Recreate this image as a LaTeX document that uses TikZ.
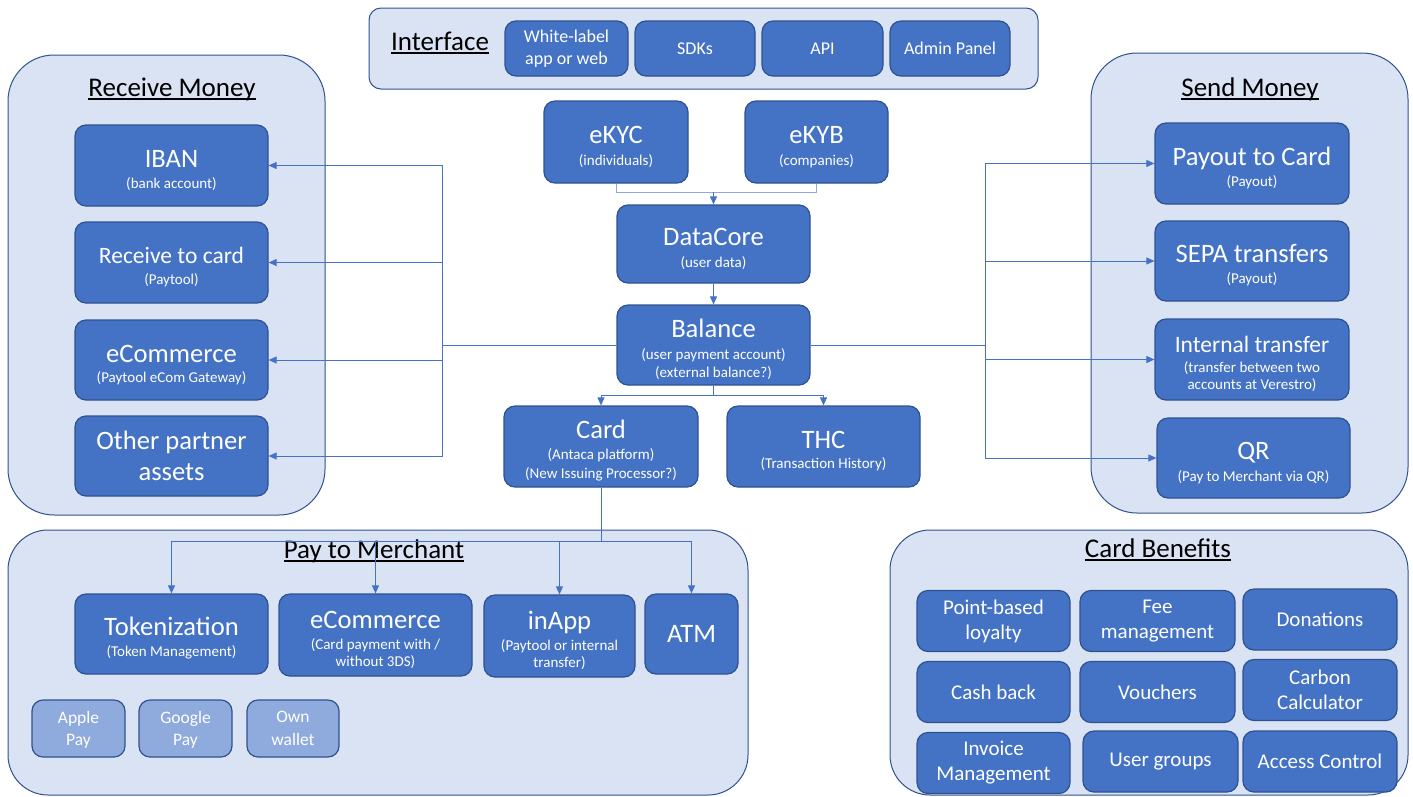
\documentclass[tikz,border=0pt]{standalone}
\usepackage{fontspec}
\setmainfont{Carlito}
\usetikzlibrary{arrows.meta}
\definecolor{boxblue}{HTML}{4472C4}
\definecolor{boxline}{HTML}{2F528F}
\definecolor{groupfill}{HTML}{DAE3F3}
\definecolor{paleblue}{HTML}{8FAADC}
\newcommand{\headfnt}{\fontsize{27}{32}\selectfont}
\newcommand{\mainfnt}{\fontsize{26.6}{31}\selectfont}
\newcommand{\midfnt}{\fontsize{23.5}{28}\selectfont}
\newcommand{\subfnt}{\fontsize{15}{17.5}\selectfont}
\newcommand{\stripfnt}{\fontsize{18}{21.5}\selectfont}
\newcommand{\walletfnt}{\fontsize{17.5}{22.5}\selectfont}
\newcommand{\perkfnt}{\fontsize{21}{25}\selectfont}
\newcommand{\mainlbl}[1]{{\mainfnt\rule{0pt}{27pt}#1}}
\newcommand{\midlbl}[1]{{\midfnt\rule{0pt}{25pt}#1}}
\newcommand{\headline}[1]{\setbox0\hbox{#1}\rlap{\rule[-3.5pt]{\wd0}{1.5pt}}\box0}
\begin{document}
\begin{tikzpicture}[x=1pt,y=-1pt,
    group/.style={draw=boxline,fill=groupfill,line width=1pt,rounded corners=#1,inner sep=0pt},
    dims/.style 2 args={minimum width=#1,minimum height=#2},
    box/.style={draw=boxline,fill=boxblue,line width=1.2pt,rounded corners=11pt,text=white,align=center,inner sep=1pt,font=\subfnt},
    wallet/.style={box,fill=paleblue,font=\walletfnt,dims={93pt}{57pt},text depth=-2.5pt},
    perk/.style={box,font=\perkfnt,dims={154pt}{61pt}},
    heading/.style={inner sep=0pt,anchor=base,font=\headfnt},
    wire/.style={draw=boxblue,line width=0.9pt},
    link/.style={wire,-{Triangle[length=8pt,width=7pt]}}]
  \useasboundingbox (0,0) rectangle (1413,796);

  % groups
  \node[group=12pt,dims={669pt}{81pt}] (iface) at (703.5,48.5) {};
  \node[group=46pt,dims={317pt}{460pt}] (recv) at (166.5,285) {};
  \node[group=46pt,dims={317pt}{460pt}] (send) at (1249.5,283) {};
  \node[group=40pt,dims={740pt}{265pt}] (merch) at (378,662.5) {};
  \node[group=40pt,dims={518pt}{265pt}] (perks) at (1149,662.5) {};
  \node[heading] (ifacehead) at (440,50) {\headline{Interface}};
  \node[heading] (recvhead) at (172,96) {\headline{Receive Money}};
  \node[heading] (sendhead) at (1250,96) {\headline{Send Money}};
  \node[heading] (merchhead) at (374,558) {\headline{Pay to Merchant}};
  \node[heading] (perkshead) at (1158,557) {\headline{Card Benefits}};

  % interface
  \node[box,font=\stripfnt,dims={123pt}{55pt}] (wlabel) at (566.5,48.5) {White-label\\app or web};
  \node[box,font=\stripfnt,dims={120pt}{55pt}] (sdk) at (695,48.5) {SDKs};
  \node[box,font=\stripfnt,dims={121pt}{55pt}] (api) at (822.5,48.5) {API};
  \node[box,font=\stripfnt,dims={120pt}{55pt}] (admin) at (950,48.5) {Admin Panel};

  % core
  \node[box,dims={144pt}{82pt}] (ekyc) at (616,142) {\mainlbl{eKYC}\\[4pt](individuals)};
  \node[box,dims={143pt}{82pt}] (ekyb) at (816.5,142) {\mainlbl{eKYB}\\[4pt](companies)};
  \node[box,dims={193pt}{78pt}] (datacore) at (713.5,244) {\mainlbl{DataCore}\\[4pt](user data)};
  \node[box,dims={193pt}{80pt}] (balance) at (713.5,345) {\mainlbl{Balance}\\[5pt](user payment account)\\(external balance?)};
  \node[box,dims={194pt}{81pt}] (card) at (601,446.5) {\mainlbl{Card}\\[3.5pt](Antaca platform)\\[1pt](New Issuing Processor?)};
  \node[box,dims={193pt}{81pt}] (thc) at (823.5,446.5) {\mainlbl{THC}\\[2.5pt](Transaction History)};

  % receive money
  \node[box,dims={193pt}{81pt}] (iban) at (171.5,165.5) {\mainlbl{IBAN}\\[3.5pt](bank account)};
  \node[box,dims={193pt}{81pt}] (rcard) at (171.5,262.5) {\midlbl{Receive to card}\\[3.5pt](Paytool)};
  \node[box,dims={193pt}{80pt}] (recom) at (171.5,360) {\mainlbl{eCommerce}\\[3pt](Paytool eCom Gateway)};
  \node[box,font=\mainfnt,dims={193pt}{80pt}] (partner) at (171.5,456) {Other partner\\assets};

  % send money
  \node[box,dims={194pt}{81pt}] (payout) at (1252,163.5) {\mainlbl{Payout to Card}\\[3.5pt](Payout)};
  \node[box,dims={194pt}{80pt}] (sepa) at (1252,261) {\mainlbl{SEPA transfers}\\[3.5pt](Payout)};
  \node[box,dims={194pt}{81pt}] (internal) at (1252,359.5) {\midlbl{Internal transfer}\\[2.5pt](transfer between two\\accounts at Verestro)};
  \node[box,dims={193pt}{80pt}] (qr) at (1253.5,458) {\mainlbl{QR}\\[4.5pt](Pay to Merchant via QR)};

  % pay to merchant
  \node[box,dims={193pt}{80pt}] (token) at (171.5,634) {\mainlbl{Tokenization}\\[4pt](Token Management)};
  \node[box,dims={193pt}{82pt}] (pecom) at (375.5,635) {\mainlbl{eCommerce}\\[3.5pt](Card payment with /\\without 3DS)};
  \node[box,dims={151pt}{82pt}] (inapp) at (559.5,636) {\mainlbl{inApp}\\[3.5pt](Paytool or internal\\transfer)};
  \node[box,font=\mainfnt,dims={93pt}{80pt}] (atm) at (691.5,634) {ATM};
  \node[wallet] (apple) at (78.5,728.5) {Apple\\Pay};
  \node[wallet] (google) at (185.5,728.5) {Google\\Pay};
  \node[wallet,dims={92pt}{57pt}] (ownwallet) at (293,728.5) {Own\\wallet};

  % card benefits
  \node[perk,dims={153pt}{61pt}] (loyalty) at (993.5,621) {Point-based\\loyalty};
  \node[perk,dims={155pt}{61pt}] (fee) at (1157.5,621) {Fee\\management};
  \node[perk] (donate) at (1320,619.5) {Donations};
  \node[perk,dims={153pt}{61pt}] (cashback) at (993.5,692) {Cash back};
  \node[perk,dims={155pt}{61pt}] (voucher) at (1157.5,692) {Vouchers};
  \node[perk] (carbon) at (1320,690) {Carbon\\Calculator};
  \node[perk,dims={153pt}{61pt}] (invoice) at (993.5,763) {Invoice\\Management};
  \node[perk,dims={155pt}{61pt}] (usergroup) at (1160.5,761.5) {User groups};
  \node[perk] (access) at (1320,761.5) {Access Control};

  % connectors
  \path (datacore.north) ++(0,-12) coordinate (kyc);
  \draw[wire,draw=paleblue] (ekyc.south) |- (kyc) -| (ekyb.south);
  \draw[link] (kyc) -- (datacore.north);
  \draw[link] (datacore.south) -- (balance.north);
  \path (balance.south) ++(0,10) coordinate (bsplit);
  \draw[wire] (balance.south) -- (bsplit);
  \draw[link] (bsplit) -| (card.north);
  \draw[link] (bsplit) -| (thc.north);
  \path (balance.west) ++(-174,0) coordinate (lbus);
  \draw[wire] (balance.west) -- (lbus);
  \foreach \dst in {iban,rcard,recom,partner}
    \draw[link] (lbus) |- (\dst.east);
  \path (balance.east) ++(175,0) coordinate (rbus);
  \draw[wire] (balance.east) -- (rbus);
  \foreach \dst in {payout,sepa,internal,qr}
    \draw[link] (rbus) |- (\dst.west);
  \path (card.south) ++(0,54) coordinate (cbus);
  \draw[wire] (card.south) -- (cbus);
  \foreach \dst in {token,pecom,inapp,atm}
    \draw[link] (cbus) -| (\dst.north);
\end{tikzpicture}
\end{document}
